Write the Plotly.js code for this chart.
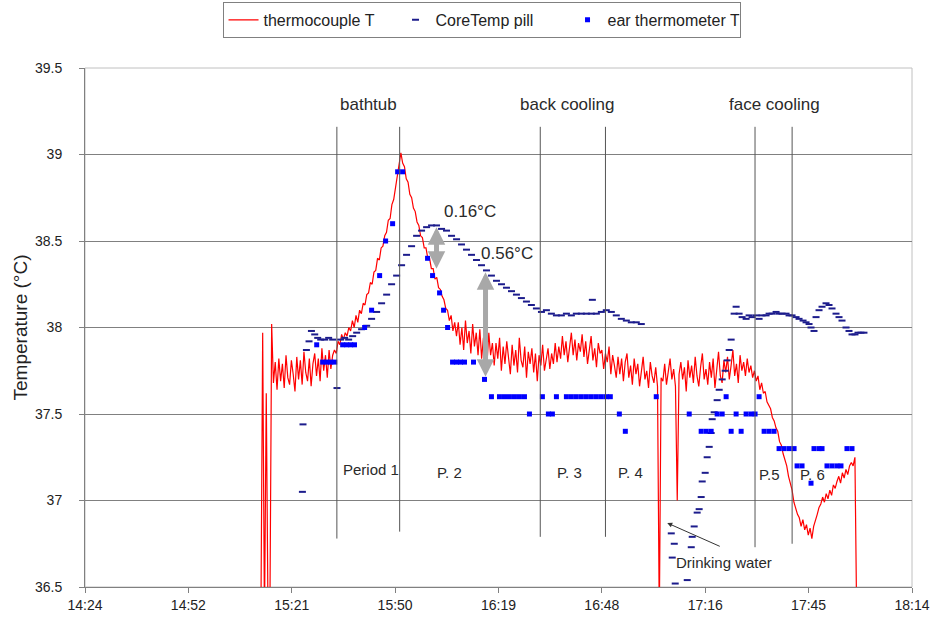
<!DOCTYPE html>
<html>
<head>
<meta charset="utf-8">
<script src="https://cdn.plot.ly/plotly-3.0.1.min.js"></script>
<style>html,body{margin:0;padding:0;background:#fff}#chart{width:935px;height:625px}</style>
</head>
<body>
<div id="chart"></div>
<script>
// ---------- DATA ----------
const DAY = '2000-01-01 ';
const xTickVals = ['14:24:00','14:52:48','15:21:36','15:50:24','16:19:12','16:48:00','17:16:48','17:45:36','18:14:24'];
const xTickText = ['14:24','14:52','15:21','15:50','16:19','16:48','17:16','17:45','18:14'];

// thermocouple logger: first sample at 15:13:00, one sample every 30 s
const tcStart = '15:13:00';
const tcStepMs = 30000;
const tcTemp = [
36.30,37.97,36.30,37.62,36.30,36.30,38.02,37.68,37.80,37.64,
37.82,37.69,37.79,37.65,37.84,37.71,37.67,37.81,37.73,37.63,
37.83,37.70,37.81,37.67,37.86,37.74,37.69,37.82,37.66,37.79,
37.85,37.72,37.82,37.69,37.88,37.75,37.84,37.71,37.87,37.76,
37.84,37.87,37.85,37.92,37.90,37.96,37.93,37.97,37.95,38.00,
37.98,38.04,38.00,38.07,38.03,38.10,38.08,38.14,38.13,38.19,
38.20,38.26,38.25,38.32,38.33,38.40,38.39,38.46,38.47,38.53,
38.55,38.62,38.63,38.71,38.74,38.81,38.86,38.93,39.01,38.95,
38.93,38.86,38.84,38.77,38.75,38.69,38.67,38.61,38.59,38.53,
38.52,38.46,38.46,38.40,38.40,38.34,38.34,38.28,38.29,38.23,
38.22,38.18,38.16,38.11,38.10,38.04,38.07,37.98,38.03,37.95,
38.03,37.90,38.00,37.87,38.04,37.91,37.98,37.85,38.02,37.89,
37.97,37.84,37.99,37.82,37.94,37.86,37.79,37.97,37.84,37.91,
37.78,37.91,37.82,37.94,37.75,37.89,37.79,37.92,37.84,37.73,
37.90,37.78,37.87,37.74,37.94,37.81,37.77,37.89,37.71,37.86,
37.79,37.88,37.74,37.85,37.69,37.84,37.78,37.90,37.75,37.83,
37.88,37.76,37.85,37.79,37.91,37.80,37.89,37.82,37.95,37.84,
37.92,37.80,37.89,37.97,37.84,37.93,37.81,37.91,37.86,37.96,
37.83,37.92,37.79,37.89,37.95,37.81,37.88,37.77,37.91,37.85,
37.87,37.76,37.85,37.80,37.89,37.73,37.84,37.78,37.71,37.83,
37.73,37.82,37.69,37.80,37.85,37.71,37.78,37.67,37.82,37.73,
37.79,37.66,37.76,37.83,37.70,37.75,37.65,37.80,37.72,37.68,
37.77,37.66,36.30,37.71,37.69,37.79,37.67,37.74,37.82,37.70,
37.76,37.66,37.00,37.73,37.80,37.70,37.77,37.63,37.81,37.71,
37.78,37.68,37.83,37.72,37.66,37.77,37.85,37.70,37.76,37.67,
37.80,37.71,37.82,37.65,37.77,37.86,37.72,37.68,37.81,37.74,
37.83,37.70,37.78,37.87,37.72,37.79,37.68,37.84,37.75,37.80,
37.72,37.82,37.74,37.78,37.71,37.75,37.69,37.72,37.64,37.68,
37.62,37.63,37.57,37.55,37.53,37.48,37.46,37.42,37.40,37.34,
37.32,37.27,37.24,37.20,37.14,37.10,37.06,36.99,36.95,36.92,
36.90,36.85,36.89,36.83,36.86,36.80,36.84,36.78,36.85,36.88,
36.92,36.96,36.98,37.02,36.99,37.04,37.01,37.06,37.03,37.09,
37.07,37.11,37.14,37.10,37.16,37.13,37.18,37.15,37.20,37.22,
37.20,37.25,36.30
];

const pillTime = [
'15:24:34','15:24:44','15:25:41','15:26:25','15:27:05','15:28:00','15:28:50','15:29:40','15:30:47','15:31:53',
'15:33:00','15:34:12','15:35:14','15:36:20','15:37:27','15:38:34','15:39:41','15:41:04','15:42:28','15:43:51',
'15:45:15','15:46:38','15:48:02','15:49:25','15:50:49','15:52:12','15:53:35','15:54:59','15:56:23','15:57:46',
'15:59:10','16:00:33','16:01:56','16:03:20','16:04:43','16:06:07','16:07:31','16:08:54','16:10:17','16:11:41',
'16:13:04','16:14:28','16:15:51','16:17:14','16:18:38','16:20:02','16:21:25','16:22:49','16:24:12','16:25:35',
'16:26:59','16:28:22','16:29:46','16:31:10','16:32:33','16:33:56','16:35:20','16:36:43','16:38:07','16:39:30',
'16:40:53','16:42:17','16:43:41','16:45:04','16:45:21','16:46:28','16:47:51','16:49:14','16:50:38','16:52:01',
'16:53:25','16:54:49','16:56:12','16:57:35','16:58:59',
'17:07:20','17:07:36','17:08:10','17:08:26','17:11:47','17:12:54','17:13:10','17:13:43','17:14:33','17:15:06',
'17:15:40','17:15:57','17:16:47','17:17:20','17:17:54','17:18:27','17:18:44','17:19:17','17:20:07','17:20:41',
'17:21:31','17:22:21','17:22:54','17:23:28','17:24:01','17:24:51','17:25:24','17:26:14','17:27:04','17:28:11',
'17:29:01','17:29:51','17:30:58','17:31:48','17:32:38','17:33:45','17:34:35','17:35:25','17:36:32','17:37:22',
'17:38:12','17:39:19','17:40:09','17:40:59','17:42:06','17:42:56','17:44:03','17:44:53','17:45:43','17:46:16',
'17:47:06','17:47:40','17:48:30','17:49:20','17:50:27','17:51:17','17:52:07','17:53:14','17:54:04','17:54:54',
'17:56:01','17:56:51','17:57:41','17:58:31','17:59:21','18:00:11','18:01:01'
];
const pillTemp = [
37.05,37.44,37.87,37.92,37.98,37.96,37.94,37.93,37.93,37.94,
37.93,37.65,37.93,37.94,37.93,37.95,37.97,37.99,38.01,38.05,
38.09,38.14,38.19,38.25,38.30,38.36,38.42,38.47,38.53,38.56,
38.58,38.59,38.59,38.57,38.56,38.53,38.51,38.48,38.45,38.42,
38.39,38.36,38.33,38.30,38.27,38.25,38.23,38.21,38.19,38.17,
38.15,38.13,38.11,38.09,38.10,38.08,38.07,38.07,38.08,38.07,
38.08,38.08,38.08,38.08,38.16,38.08,38.09,38.10,38.09,38.07,
38.05,38.04,38.03,38.03,38.02,
36.81,36.67,36.75,36.52,36.54,36.73,36.79,36.85,36.93,36.95,
37.02,37.11,37.16,37.25,37.31,37.39,37.47,37.51,37.58,37.64,
37.70,37.75,37.81,37.87,37.93,38.08,38.12,38.08,38.06,38.05,
38.07,38.06,38.07,38.05,38.07,38.07,38.08,38.08,38.09,38.08,
38.08,38.08,38.07,38.07,38.06,38.05,38.04,38.03,38.02,38.00,
37.98,38.06,38.10,38.12,38.14,38.13,38.11,38.08,38.06,38.04,
38.00,37.98,37.96,37.96,37.97,37.97,37.97
];

const earTime = [
'15:28:33','15:30:13','15:31:20','15:32:27','15:33:34','15:35:47','15:36:54','15:38:01','15:39:05','15:41:54',
'15:43:51','15:46:05','15:47:45','15:49:42','15:51:06','15:52:29','15:59:26','16:00:50','16:02:47','16:03:54',
'16:05:01','16:06:24','16:07:31','16:08:37','16:09:44','16:12:14','16:15:18','16:17:14','16:19:28','16:20:52',
'16:22:15','16:23:39','16:25:02','16:26:26','16:27:49','16:31:26','16:33:06','16:34:13','16:35:20','16:38:07',
'16:39:30','16:40:53','16:42:17','16:43:41','16:45:04','16:46:28','16:47:51','16:49:14','16:50:21','16:52:52',
'16:54:32','17:03:09','17:12:20','17:15:40','17:17:04','17:18:27','17:20:07','17:21:31','17:22:37','17:24:01',
'17:25:24','17:26:48','17:28:11','17:29:34','17:30:41','17:31:48','17:33:12','17:34:35','17:35:58','17:37:22',
'17:38:45','17:40:09','17:41:33','17:42:23','17:43:46','17:46:16','17:47:06','17:48:30','17:49:20','17:50:43',
'17:52:07','17:53:30','17:54:37','17:56:17','17:57:41'
];
const earTemp = [
37.9,37.8,37.8,37.8,37.8,37.9,37.9,37.9,37.9,38.0,
38.1,38.3,38.5,38.6,38.9,38.9,38.4,38.3,38.2,38.1,
38.0,37.8,37.8,37.8,37.8,37.8,37.7,37.6,37.6,37.6,
37.6,37.6,37.6,37.6,37.5,37.6,37.5,37.5,37.6,37.6,
37.6,37.6,37.6,37.6,37.6,37.6,37.6,37.6,37.6,37.5,
37.4,37.6,37.5,37.4,37.4,37.4,37.5,37.5,37.6,37.4,
37.5,37.4,37.5,37.5,37.5,37.6,37.4,37.4,37.4,37.3,
37.3,37.3,37.3,37.2,37.2,37.1,37.3,37.3,37.3,37.2,
37.2,37.2,37.2,37.3,37.3
];

// protocol events (start/end of each intervention)
const eventTimes = ['15:34:10','15:51:40','16:30:50','16:49:00','17:30:40','17:41:00'];

// ---------- CHART ----------
const T = t => DAY + t;
const FONT = 'Liberation Sans, Arial, sans-serif';

const traces = [
  {name:'thermocouple T', type:'scatter', mode:'lines',
   x0: T(tcStart), dx: tcStepMs, y: tcTemp,
   line:{color:'#ff0000', width:1.2}},
  {name:'CoreTemp pill', type:'scatter', mode:'markers',
   x: pillTime.map(T), y: pillTemp,
   marker:{symbol:'line-ew', size:5, color:'#1c1c8c', line:{color:'#1c1c8c', width:2}}},
  {name:'ear thermometer T', type:'scatter', mode:'markers',
   x: earTime.map(T), y: earTemp,
   marker:{symbol:'square', size:5, color:'#0000ff', line:{width:0}}}
];

const evBottoms = [36.78, 36.82, 36.79, 36.79, 36.73, 36.75];
const shapes = eventTimes.map((t,i)=>({type:'line', xref:'x', yref:'y',
  x0:T(t), x1:T(t), y0:39.16, y1:evBottoms[i], line:{color:'#555555', width:1}}));
shapes.push({type:'rect', xref:'paper', yref:'paper', x0:0, x1:1, y0:0, y1:1,
  line:{color:'#c0c0c0', width:1}, layer:'below'});

const txt = (x,y,s,size) => ({x:T(x), y:y, xref:'x', yref:'y', text:s, showarrow:false,
  font:{family:FONT, size:size||16, color:'#2a2a2a'}});

const annotations = [
  txt('15:43:01',39.29,'bathtub',17),
  txt('16:38:23',39.29,'back cooling',17),
  txt('17:36:00',39.29,'face cooling',17),
  txt('15:43:35',37.18,'Period 1',15),
  txt('16:05:34',37.16,'P. 2',15),
  txt('16:38:57',37.16,'P. 3',15),
  txt('16:55:55',37.16,'P. 4',15),
  txt('17:34:36',37.15,'P.5',15),
  txt('17:46:34',37.15,'P. 6',15),
  txt('16:11:08',38.67,'0.16°C',17),
  txt('16:21:42',38.43,'0.56°C',17),
  txt('17:22:04',36.64,'Drinking water',15),
  {x:T('16:01:56'), y:38.58, xref:'x', yref:'y', text:'', showarrow:true, ax:0, ay:43,
   arrowside:'end+start', arrowhead:2, startarrowhead:2, arrowsize:0.7, startarrowsize:0.7,
   arrowwidth:5, arrowcolor:'#a8a8a8', standoff:0, startstandoff:0},
  {x:T('16:15:35'), y:38.32, xref:'x', yref:'y', text:'', showarrow:true, ax:0, ay:106,
   arrowside:'end+start', arrowhead:2, startarrowhead:2, arrowsize:0.7, startarrowsize:0.7,
   arrowwidth:5, arrowcolor:'#a8a8a8', standoff:0, startstandoff:0},
  {x:T('17:06:13'), y:36.87, xref:'x', yref:'y', text:'', showarrow:true, ax:54, ay:24,
   arrowhead:2, arrowsize:1, arrowwidth:1, arrowcolor:'#333333', standoff:0}
];

const layout = {
  width:935, height:625,
  margin:{l:85, r:23, t:68, b:38},
  paper_bgcolor:'#ffffff', plot_bgcolor:'#ffffff',
  font:{family:FONT, size:14, color:'#222222'},
  showlegend:true,
  legend:{orientation:'h', xref:'container', yref:'container', x:0.515, xanchor:'center', y:0.997, yanchor:'top',
    entrywidth:127, entrywidthmode:'pixels',
    bordercolor:'#808080', borderwidth:1, bgcolor:'#ffffff',
    font:{family:FONT, size:16, color:'#222222'}},
  xaxis:{type:'date', range:[T('14:24:00'), T('18:14:24')], automargin:false,
    tickmode:'array', tickvals:xTickVals.map(T), ticktext:xTickText,
    showgrid:false, zeroline:false, showline:true, linecolor:'#808080', linewidth:1,
    ticks:'outside', ticklen:5, tickcolor:'#808080',
    tickfont:{family:FONT, size:14, color:'#222222'}},
  yaxis:{range:[36.5, 39.5], dtick:0.5, tick0:36.5, automargin:false,
    showgrid:true, gridcolor:'#808080', gridwidth:1, zeroline:false,
    showline:true, linecolor:'#808080', linewidth:1,
    ticks:'outside', ticklen:5, tickcolor:'#808080', ticklabelstandoff:14,
    tickfont:{family:FONT, size:14, color:'#222222'},
    title:{text:'Temperature (°C)', font:{family:FONT, size:19, color:'#222222'}, standoff:2}},
  shapes: shapes,
  annotations: annotations
};

Plotly.newPlot('chart', traces, layout, {displayModeBar:false, staticPlot:true});
</script>
</body>
</html>
